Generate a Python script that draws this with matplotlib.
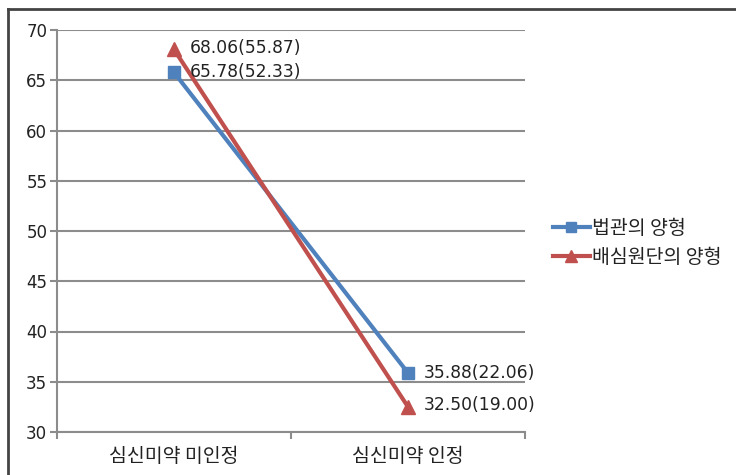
import matplotlib
matplotlib.use("Agg")
import matplotlib.pyplot as plt
from matplotlib.lines import Line2D

plt.rcParams['font.family'] = ['DejaVu Sans', 'Noto Sans CJK KR']

categories = ["심신미약 미인정", "심신미약 인정"]
series_names = ["법관의 양형", "배심원단의 양형"]
judge_vals = [65.78, 35.88]
jury_vals = [68.06, 32.50]
judge_labels = ["65.78(52.33)", "35.88(22.06)"]
jury_labels = ["68.06(55.87)", "32.50(19.00)"]
yticks = [30, 35, 40, 45, 50, 55, 60, 65, 70]

blue = "#4F81BD"
red = "#C0504D"
grid = "#8C8C8C"
txt = "#222222"

fig = plt.figure(figsize=(7.36, 4.75), dpi=100)
ax = fig.add_axes([57/736, 1-432/475, (525-57)/736, (432-30)/475])

x = [0.5, 1.5]
ax.plot(x, judge_vals, color=blue, lw=3, marker="s", ms=8, label=series_names[0], zorder=3)
ax.plot(x, jury_vals, color=red, lw=3, marker="^", ms=10, label=series_names[1], zorder=4)

for xi, v, t in zip(x, judge_vals, judge_labels):
    ax.annotate(t, (xi, v), xytext=(11, 0), textcoords="offset points",
                va="center", ha="left", fontsize=12.3, color=txt, zorder=5)
for xi, v, t in zip(x, jury_vals, jury_labels):
    ax.annotate(t, (xi, v), xytext=(11, 1), textcoords="offset points",
                va="center", ha="left", fontsize=12.3, color=txt, zorder=5)

ax.set_xlim(0, 2)
ax.set_ylim(30, 70)
ax.set_yticks(yticks)
ax.set_xticks([0, 1, 2])
ax.set_xticklabels([])
ax.set_xticks(x, minor=True)
ax.set_xticklabels(categories, minor=True, fontsize=14, family=['Noto Sans CJK KR', 'DejaVu Sans'],
                   color=txt)
ax.tick_params(axis="x", which="minor", length=0, pad=10)
ax.tick_params(axis="x", which="major", length=5, color=grid, width=1.5)
ax.tick_params(axis="y", length=5, color=grid, width=1.5, labelsize=12, pad=2, labelcolor=txt)
ax.yaxis.grid(True, color=grid, lw=1.5)
ax.set_axisbelow(True)
for s in ["top", "right"]:
    ax.spines[s].set_visible(False)
for s in ["left", "bottom"]:
    ax.spines[s].set_color(grid)
    ax.spines[s].set_linewidth(1.5)

handles = [Line2D([], [], color=blue, lw=3, marker="s", ms=7),
           Line2D([], [], color=red, lw=3, marker="^", ms=9)]
fig.legend(handles, series_names, loc="center left", bbox_to_anchor=(535/736, 1-243/475),
           frameon=False, handlelength=1.95, handletextpad=0.1, labelspacing=0.4,
           prop={'family': ['Noto Sans CJK KR', 'DejaVu Sans'], 'size': 14},
           labelcolor=txt)

# outer border (top and left)
fig.add_artist(Line2D([8/736, 1], [1-9/475, 1-9/475], color="#444444", lw=2, transform=fig.transFigure))
fig.add_artist(Line2D([8/736, 8/736], [0, 1-9/475], color="#444444", lw=2, transform=fig.transFigure))

fig.savefig("out.png", dpi=100)
